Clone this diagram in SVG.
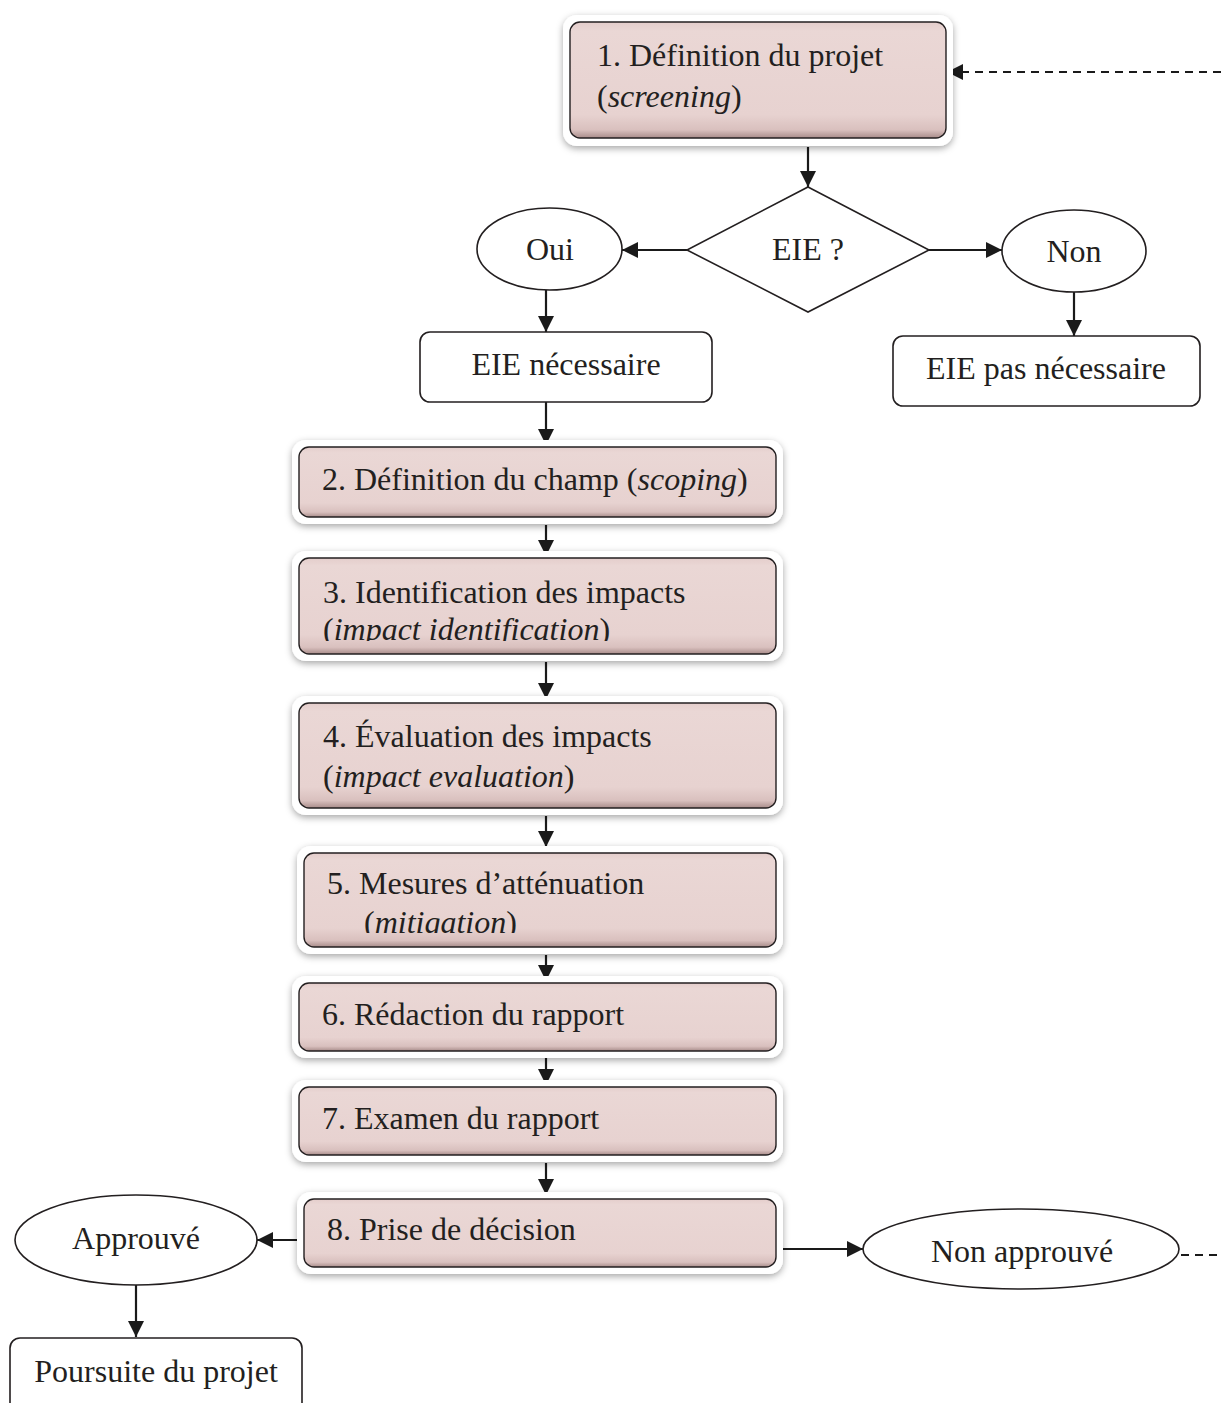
<svg xmlns="http://www.w3.org/2000/svg" width="1221" height="1403" viewBox="0 0 1221 1403">
<style>
text{font-family:"Liberation Serif","Times New Roman",serif;font-size:32px;fill:#231f20}
.c{text-anchor:middle}
.i{font-style:italic}
.outline{fill:#fff;stroke:#231f20;stroke-width:1.6}
.glow{fill:#fff;filter:url(#sh)}
.pink{fill:url(#pg);stroke:#231f20;stroke-width:1.4}
.ln{fill:none;stroke:#1a1a1a;stroke-width:2.2;marker-end:url(#ah)}
.dash{fill:none;stroke:#1a1a1a;stroke-width:2;stroke-dasharray:8 6}
</style>
<defs>
<marker id="ah" markerUnits="userSpaceOnUse" markerWidth="17" markerHeight="17" refX="16" refY="8" orient="auto">
<path d="M0,0 L16,8 L0,16 Z" fill="#1a1a1a"/>
</marker>
<linearGradient id="pg" x1="0" y1="0" x2="0" y2="1">
<stop offset="0" stop-color="#e4cdcb"/>
<stop offset="0.08" stop-color="#ead7d5"/>
<stop offset="0.8" stop-color="#e7d2d0"/>
<stop offset="0.93" stop-color="#d9c0be"/>
<stop offset="1" stop-color="#a88c8a"/>
</linearGradient>
<filter id="sh" x="-10%" y="-30%" width="120%" height="160%">
<feDropShadow dx="0" dy="2.5" stdDeviation="3.5" flood-color="#000" flood-opacity="0.35"/>
</filter>
<clipPath id="clip3"><rect x="290" y="550" width="500" height="91"/></clipPath>
<clipPath id="clip5"><rect x="290" y="845" width="500" height="88"/></clipPath>
</defs>

<g id="connectors">
<path class="ln" d="M808,147 V187"/>
<path class="ln" d="M687,250 H622"/>
<path class="ln" d="M929,250 H1002"/>
<path class="ln" d="M546,290 V332"/>
<path class="ln" d="M1074,292 V336"/>
<path class="ln" d="M546,402 V445"/>
<path class="ln" d="M546,525 V556"/>
<path class="ln" d="M546,662 V699"/>
<path class="ln" d="M546,816 V847"/>
<path class="ln" d="M546,955 V981"/>
<path class="ln" d="M546,1058 V1085"/>
<path class="ln" d="M546,1163 V1195"/>
<path class="ln" d="M298,1240 H257"/>
<path class="ln" d="M782,1249 H863"/>
<path class="ln" d="M136,1285 V1337"/>
<path class="dash" d="M1221,72 H963"/>
<path d="M963,72 H947" class="ln"/>
<path class="dash" d="M1181,1255 H1221"/>
</g>

<g id="n1">
<rect class="glow" x="563" y="15" width="390" height="131" rx="14"/>
<rect class="pink" x="570" y="22" width="376" height="116" rx="10"/>
<text x="597" y="66">1. Définition du projet</text>
<text x="597" y="107">(<tspan class="i">screening</tspan>)</text>
</g>

<g id="decision">
<polygon class="outline" points="808,187 929,250 808,312 687,250"/>
<text class="c" x="808" y="260">EIE ?</text>
</g>

<g id="oui">
<ellipse class="outline" cx="549.5" cy="249" rx="72.5" ry="41"/>
<text class="c" x="550" y="260">Oui</text>
</g>

<g id="non">
<ellipse class="outline" cx="1074" cy="251" rx="72" ry="41"/>
<text class="c" x="1074" y="262">Non</text>
</g>

<g id="eie-necessaire">
<rect class="outline" x="420" y="332" width="292" height="70" rx="10"/>
<text class="c" x="566" y="375">EIE nécessaire</text>
</g>

<g id="eie-pas-necessaire">
<rect class="outline" x="893" y="336" width="307" height="70" rx="10"/>
<text class="c" x="1046" y="379">EIE pas nécessaire</text>
</g>

<g id="n2">
<rect class="glow" x="292" y="440" width="491" height="84" rx="14"/>
<rect class="pink" x="299" y="447" width="477" height="70" rx="10"/>
<text x="322" y="490">2. Définition du champ (<tspan class="i">scoping</tspan>)</text>
</g>

<g id="n3">
<rect class="glow" x="292" y="551" width="491" height="110" rx="14"/>
<rect class="pink" x="299" y="558" width="477" height="96" rx="10"/>
<g clip-path="url(#clip3)">
<text x="323" y="603">3. Identification des impacts</text>
<text x="323" y="640">(<tspan class="i">impact identification</tspan>)</text>
</g>
</g>

<g id="n4">
<rect class="glow" x="292" y="696" width="491" height="119" rx="14"/>
<rect class="pink" x="299" y="703" width="477" height="105" rx="10"/>
<text x="323" y="747">4. Évaluation des impacts</text>
<text x="323" y="787">(<tspan class="i">impact evaluation</tspan>)</text>
</g>

<g id="n5">
<rect class="glow" x="297" y="846" width="486" height="108" rx="14"/>
<rect class="pink" x="304" y="853" width="472" height="94" rx="10"/>
<g clip-path="url(#clip5)">
<text x="327" y="894">5. Mesures d’atténuation</text>
<text x="364" y="933">(<tspan class="i">mitigation</tspan>)</text>
</g>
</g>

<g id="n6">
<rect class="glow" x="292" y="976" width="491" height="82" rx="14"/>
<rect class="pink" x="299" y="983" width="477" height="68" rx="10"/>
<text x="322" y="1025">6. Rédaction du rapport</text>
</g>

<g id="n7">
<rect class="glow" x="292" y="1080" width="491" height="82" rx="14"/>
<rect class="pink" x="299" y="1087" width="477" height="68" rx="10"/>
<text x="322" y="1129">7. Examen du rapport</text>
</g>

<g id="n8">
<rect class="glow" x="297" y="1192" width="486" height="82" rx="14"/>
<rect class="pink" x="304" y="1199" width="472" height="68" rx="10"/>
<text x="327" y="1240">8. Prise de décision</text>
</g>

<g id="approuve">
<ellipse class="outline" cx="136" cy="1240" rx="121" ry="45"/>
<text class="c" x="136" y="1249">Approuvé</text>
</g>

<g id="non-approuve">
<ellipse class="outline" cx="1021" cy="1249" rx="158" ry="40"/>
<text class="c" x="1022" y="1262">Non approuvé</text>
</g>

<g id="poursuite">
<rect class="outline" x="10" y="1338" width="292" height="80" rx="10"/>
<text class="c" x="156" y="1382">Poursuite du projet</text>
</g>
</svg>
